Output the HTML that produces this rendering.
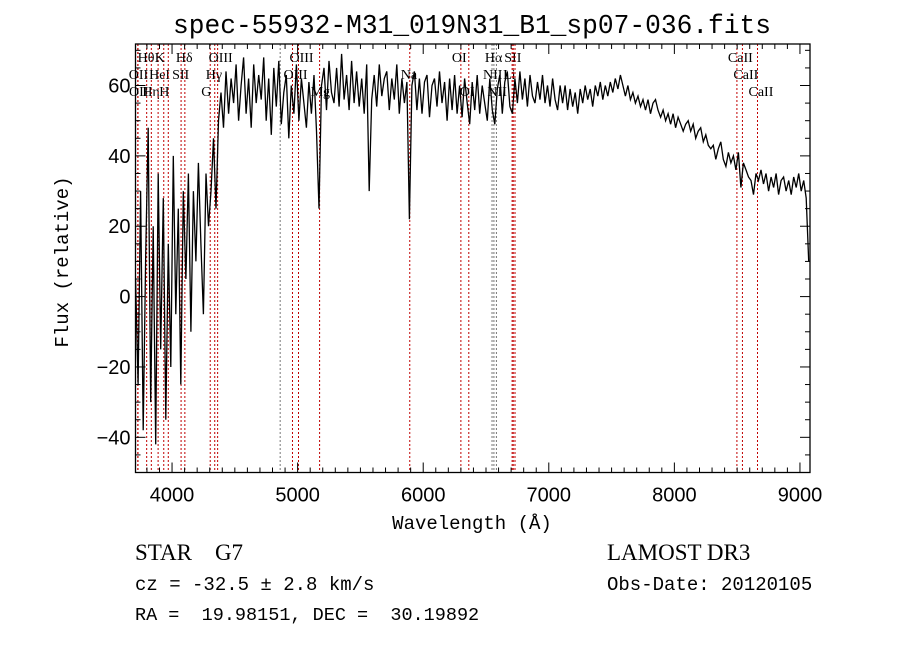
<!DOCTYPE html>
<html><head><meta charset="utf-8"><style>
html,body{margin:0;padding:0;background:#fff;width:900px;height:649px;overflow:hidden}
svg{display:block}
.lbl{font-family:"Liberation Serif",serif;font-size:14px;fill:#000}
.tk{font-family:"Liberation Sans",sans-serif;font-size:20px;fill:#000}
.mono{font-family:"Liberation Mono",monospace;fill:#000}
</style></head><body>
<svg id="chart" width="900" height="649" viewBox="0 0 900 649" xmlns="http://www.w3.org/2000/svg">
<rect width="900" height="649" fill="#fff"/>
<text class="mono" x="472" y="33" font-size="27" text-anchor="middle" textLength="598" lengthAdjust="spacingAndGlyphs">spec-55932-M31_019N31_B1_sp07-036.fits</text>
<g id="lines"></g>
<g id="spec"></g>
<g id="axes"></g>
<text class="mono" x="472" y="529" font-size="19" text-anchor="middle">Wavelength (Å)</text>
<text class="mono" x="0" y="0" font-size="19" text-anchor="middle" transform="translate(68,262) rotate(-90)">Flux (relative)</text>
<text font-family="Liberation Serif,serif" font-size="23" x="135" y="560" xml:space="preserve">STAR    G7</text>
<text font-family="Liberation Serif,serif" font-size="23" x="607" y="560">LAMOST DR3</text>
<text class="mono" font-size="19" x="135" y="590" xml:space="preserve">cz = -32.5 ± 2.8 km/s</text>
<text class="mono" font-size="19" x="607" y="590">Obs-Date: 20120105</text>
<text class="mono" font-size="18.5" x="135" y="620" xml:space="preserve">RA =  19.98151, DEC =  30.19892</text>
</svg>
<script>
const waveStart = 3710;
const waveStep = 20;
const flux = [
5,-25,30,-38,12,48,-30,20,-42,35,
-15,28,-35,15,-20,40,-5,25,-25,30,
5,35,-10,30,10,38,15,-5,35,20,
30,45,25,50,58,48,64,52,62,55,
66,50,60,68,52,62,48,66,55,63,
56,68,50,62,46,65,54,67,49,58,
63,45,60,52,66,50,62,55,48,61,
52,63,47,25,60,65,53,67,58,55,
65,54,69,56,63,53,67,55,64,54,
62,52,66,30,56,63,54,66,57,62,
64,53,62,56,66,52,62,55,61,22,
60,64,53,62,52,61,63,51,60,62,
54,64,55,61,50,62,53,63,52,60,
51,62,55,49,61,53,63,52,60,55,
50,62,53,49,59,63,52,61,64,54,
52,62,55,64,56,62,54,63,57,55,
61,56,63,55,60,54,62,56,53,60,
55,60,53,59,54,58,52,59,55,60,
56,59,54,60,57,61,56,60,57,61,
58,62,59,63,60,57,60,56,58,55,
57,54,56,53,56,52,55,56,53,51,
53,50,52,49,52,48,51,49,47,49,
50,47,49,45,47,48,44,46,43,42,
43,39,42,44,39,37,41,38,40,36,
41,31,38,36,34,33,29,35,33,36,
32,35,30,34,31,35,29,33,34,30,
33,29,34,31,35,30,33,28,10];
const lineWaves = [3798,3835,3727,3729,3889,3934,3970,4072,4102,4304,4340,4363,4861,4959,5007,5175,5893,6300,6363,6548,6563,6583,6708,6717,6731,8498,8542,8662];
const lineNames = ["Hθ","Hη","OII","OII","HeI","K","H","SII","Hδ","G","Hγ","OIII","","OIII","OIII","Mg","Na","OI","OI","NII","Hα","NII","Li","SII","","CaII","CaII","CaII"];
const lineRows = [0,2,1,2,1,0,2,1,0,2,1,0,0,1,0,2,1,0,2,1,0,2,1,0,0,0,1,2];
const xTicks = [4000,5000,6000,7000,8000,9000];
const yTicks = [-40,-20,0,20,40,60];

const L=135.5,R=810,T=44,B=472.5,XMIN=3709,XMAX=9080,YMIN=-50,YMAX=71.8;
const sx=w=>L+(w-XMIN)/(XMAX-XMIN)*(R-L);
const sy=v=>B-(v-YMIN)/(YMAX-YMIN)*(B-T);
const NS="http://www.w3.org/2000/svg";
function mk(tag,attrs,parent){const e=document.createElementNS(NS,tag);for(const k in attrs)e.setAttribute(k,attrs[k]);parent.appendChild(e);return e;}

const gl=document.getElementById('lines');
lineWaves.forEach((w,i)=>{
  const x=sx(w);
  const dark=(w>=6548&&w<=6583)||w===4861;
  const ln=mk('line',{x1:x,x2:x,y1:T,y2:B,stroke:dark?'#777':'#c00000','stroke-width':1,'stroke-dasharray':'2,2'},gl);
  
  
  if(lineNames[i]){
    const t=mk('text',{x:x-9,y:62+lineRows[i]*17,class:'lbl'},gl);
    t.textContent=lineNames[i];
    
    
  }
});

const gs=document.getElementById('spec');
const pts=flux.map((v,i)=>sx(waveStart+i*waveStep).toFixed(1)+','+sy(Math.max(YMIN,Math.min(YMAX,v))).toFixed(1)).join(' ');
const pl=mk('polyline',{points:pts,fill:'none',stroke:'#000','stroke-width':1.3,'stroke-linejoin':'miter'},gs);



const ga=document.getElementById('axes');
const fr=mk('rect',{x:L,y:T,width:R-L,height:B-T,fill:'none',stroke:'#000','stroke-width':1.3},ga);


for(let w=3800;w<=9000;w+=100){
  const x=sx(w),len=(w%1000===0)?10:5;
  mk('line',{x1:x,x2:x,y1:B,y2:B-len,stroke:'#000'},ga);
  mk('line',{x1:x,x2:x,y1:T,y2:T+len,stroke:'#000'},ga);
}
xTicks.forEach(w=>{
  const t=mk('text',{x:sx(w),y:B+29,class:'tk','text-anchor':'middle'},ga);
  t.textContent=w;
  
  
});
for(let v=-50;v<=70;v+=5){
  const y=sy(v),len=(v%20===0)?10:5;
  mk('line',{x1:L,x2:L+len,y1:y,y2:y,stroke:'#000'},ga);
  mk('line',{x1:R,x2:R-len,y1:y,y2:y,stroke:'#000'},ga);
}
yTicks.forEach(v=>{
  const t=mk('text',{x:L-5,y:sy(v)+7,class:'tk','text-anchor':'end'},ga);
  t.textContent=v<0?'\u2212'+(-v):v;
  
  
});
</script>
</body></html>
